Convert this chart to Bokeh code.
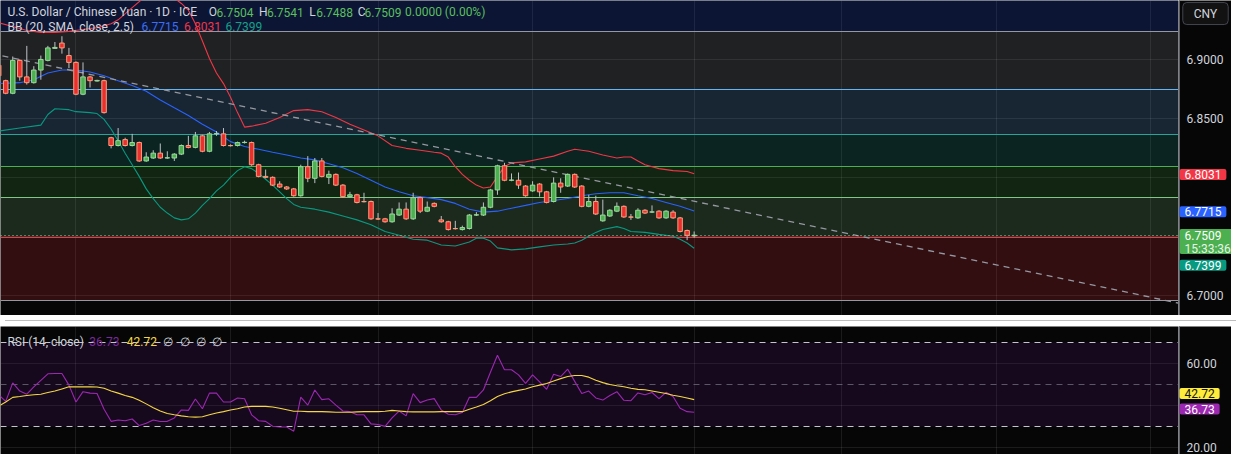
from bokeh.plotting import figure
from bokeh.models import Range1d, FixedTicker, Label, ColumnDataSource, Div
from bokeh.layouts import column, row
from bokeh.core.properties import value
from bokeh.embed import file_html
from bokeh.resources import INLINE

# ---------------- data ----------------
opens = [6.8951, 6.8820, 6.8713, 6.8992, 6.8852, 6.8803, 6.8910, 6.8992, 6.9094, 6.9139,
         6.9033, 6.8975, 6.8705, 6.8852, 6.8817, 6.8820, 6.8336, 6.8270, 6.8320, 6.8270,
         6.8295, 6.8139, 6.8164, 6.8205, 6.8164, 6.8164, 6.8197, 6.8270, 6.8254, 6.8352,
         6.8221, 6.8369, 6.8369, 6.8270, 6.8270, 6.8295, 6.8295, 6.8107, 6.8008, 6.8000,
         6.7943, 6.7918, 6.7902, 6.7844, 6.8090, 6.7992, 6.8139, 6.8000, 6.8025, 6.7934,
         6.7836, 6.7852, 6.7795, 6.7795, 6.7648, 6.7648, 6.7623, 6.7680, 6.7730, 6.7648,
         6.7828, 6.7713, 6.7779, 6.7639, 6.7623, 6.7566, 6.7557, 6.7566, 6.7680, 6.7680,
         6.7746, 6.7893, 6.8098, 6.7975, 6.7975, 6.7926, 6.7885, 6.7943, 6.7877, 6.7795,
         6.7951, 6.7926, 6.8025, 6.7926, 6.7754, 6.7795, 6.7631, 6.7672, 6.7713, 6.7754,
         6.7664, 6.7656, 6.7721, 6.7705, 6.7713, 6.7656, 6.7705, 6.7656, 6.7549, 6.7504]
highs = [6.8967, 6.8828, 6.9025, 6.9000, 6.9115, 6.8943, 6.9033, 6.9115, 6.9148, 6.9197,
         6.9098, 6.8984, 6.8975, 6.8861, 6.8828, 6.8828, 6.8344, 6.8418, 6.8336, 6.8369,
         6.8303, 6.8213, 6.8230, 6.8287, 6.8221, 6.8205, 6.8279, 6.8352, 6.8385, 6.8361,
         6.8385, 6.8393, 6.8418, 6.8279, 6.8303, 6.8311, 6.8303, 6.8115, 6.8066, 6.8008,
         6.7967, 6.7926, 6.7910, 6.8107, 6.8180, 6.8164, 6.8164, 6.8057, 6.8033, 6.7943,
         6.7877, 6.7860, 6.7869, 6.7803, 6.7697, 6.7656, 6.7738, 6.7787, 6.7787, 6.7869,
         6.7836, 6.7795, 6.7787, 6.7672, 6.7631, 6.7631, 6.7590, 6.7689, 6.7705, 6.7787,
         6.7902, 6.8107, 6.8123, 6.8033, 6.8041, 6.7934, 6.7967, 6.7951, 6.7885, 6.8000,
         6.7992, 6.8033, 6.8033, 6.7934, 6.7852, 6.7844, 6.7811, 6.7730, 6.7787, 6.7762,
         6.7689, 6.7738, 6.7730, 6.7762, 6.7721, 6.7721, 6.7721, 6.7664, 6.7557, 6.7541]
lows = [6.8844, 6.8705, 6.8705, 6.8820, 6.8787, 6.8795, 6.8828, 6.8984, 6.9090, 6.9049,
        6.8926, 6.8697, 6.8697, 6.8762, 6.8812, 6.8541, 6.8246, 6.8262, 6.8262, 6.8262,
        6.8131, 6.8131, 6.8156, 6.8156, 6.8156, 6.8139, 6.8189, 6.8246, 6.8246, 6.8213,
        6.8213, 6.8352, 6.8262, 6.8262, 6.8262, 6.8287, 6.8098, 6.8000, 6.7992, 6.7926,
        6.7910, 6.7893, 6.7836, 6.7836, 6.7959, 6.7951, 6.8000, 6.7943, 6.7926, 6.7828,
        6.7828, 6.7779, 6.7787, 6.7639, 6.7639, 6.7615, 6.7615, 6.7672, 6.7639, 6.7639,
        6.7697, 6.7705, 6.7746, 6.7615, 6.7549, 6.7557, 6.7549, 6.7557, 6.7672, 6.7672,
        6.7738, 6.7852, 6.7967, 6.7967, 6.7902, 6.7836, 6.7877, 6.7836, 6.7779, 6.7787,
        6.7869, 6.7918, 6.7910, 6.7746, 6.7746, 6.7680, 6.7623, 6.7664, 6.7705, 6.7656,
        6.7639, 6.7648, 6.7689, 6.7697, 6.7648, 6.7648, 6.7648, 6.7533, 6.7467, 6.7488]
closes = [6.8861, 6.8713, 6.8992, 6.8852, 6.8803, 6.8910, 6.9000, 6.9098, 6.9102, 6.9098,
          6.8975, 6.8705, 6.8852, 6.8820, 6.8822, 6.8549, 6.8270, 6.8311, 6.8270, 6.8295,
          6.8139, 6.8172, 6.8205, 6.8164, 6.8166, 6.8197, 6.8270, 6.8254, 6.8352, 6.8221,
          6.8369, 6.8371, 6.8270, 6.8268, 6.8295, 6.8297, 6.8107, 6.8008, 6.8000, 6.7934,
          6.7918, 6.7902, 6.7844, 6.8090, 6.7992, 6.8139, 6.8008, 6.8025, 6.7934, 6.7836,
          6.7852, 6.7787, 6.7793, 6.7648, 6.7646, 6.7623, 6.7689, 6.7730, 6.7648, 6.7828,
          6.7713, 6.7746, 6.7754, 6.7623, 6.7557, 6.7564, 6.7574, 6.7680, 6.7682, 6.7746,
          6.7893, 6.8098, 6.7975, 6.7977, 6.7934, 6.7844, 6.7934, 6.7877, 6.7787, 6.7951,
          6.7918, 6.8025, 6.7918, 6.7754, 6.7795, 6.7689, 6.7680, 6.7721, 6.7754, 6.7664,
          6.7662, 6.7721, 6.7697, 6.7707, 6.7656, 6.7713, 6.7656, 6.7541, 6.7508, 6.7509]
bars = list(range(len(closes)))

bb_mid_idx = [0, 3, 5, 7, 9, 11, 13, 15, 17, 19, 21, 23, 25, 27, 29, 31, 33, 35, 37, 39,
              41, 43, 45, 47, 49, 51, 53, 55, 57, 59, 61, 63, 65, 67, 69, 71, 73, 75, 77, 79,
              81, 83, 85, 87, 89, 91, 93, 95, 97, 99]
bb_mid = [6.8795, 6.8803, 6.8828, 6.8885, 6.8910, 6.8910, 6.8893, 6.8861, 6.8820, 6.8779,
          6.8730, 6.8656, 6.8590, 6.8525, 6.8451, 6.8385, 6.8303, 6.8262, 6.8238, 6.8213,
          6.8189, 6.8164, 6.8148, 6.8115, 6.8082, 6.8033, 6.7975, 6.7918, 6.7877, 6.7844,
          6.7828, 6.7811, 6.7779, 6.7730, 6.7705, 6.7713, 6.7738, 6.7762, 6.7787, 6.7803,
          6.7820, 6.7844, 6.7861, 6.7869, 6.7869, 6.7844, 6.7820, 6.7787, 6.7754, 6.7715]
bb_up_idx = [0, 2, 4, 6, 8, 10, 12, 14, 16, 17, 19, 21, 23, 25, 26, 27, 28, 29, 30, 31,
             32, 33, 34, 35, 36, 38, 40, 42, 44, 46, 48, 50, 52, 54, 56, 58, 60, 62, 63, 64,
             65, 66, 67, 68, 69, 70, 71, 72, 73, 75, 77, 79, 81, 82, 84, 86, 88, 89, 90, 91,
             92, 94, 96, 98, 99]
bb_up = [6.9311, 6.9279, 6.9246, 6.9230, 6.9230, 6.9238, 6.9254, 6.9270, 6.9303, 6.9336,
         6.9440, 6.9540, 6.9560, 6.9520, 6.9475, 6.9418, 6.9303, 6.9156, 6.9008, 6.8885,
         6.8795, 6.8680, 6.8549, 6.8426, 6.8434, 6.8459, 6.8508, 6.8566, 6.8574, 6.8557,
         6.8508, 6.8451, 6.8402, 6.8352, 6.8270, 6.8246, 6.8230, 6.8213, 6.8205, 6.8172,
         6.8090, 6.8025, 6.7975, 6.7934, 6.7910, 6.7918, 6.8008, 6.8090, 6.8123, 6.8131,
         6.8156, 6.8180, 6.8221, 6.8238, 6.8221, 6.8189, 6.8164, 6.8172, 6.8172, 6.8139,
         6.8107, 6.8074, 6.8057, 6.8049, 6.8031]
bb_lo_idx = [0, 3, 6, 7, 8, 10, 11, 13, 14, 15, 16, 17, 18, 19, 20, 21, 22, 23, 24, 25,
             26, 27, 28, 29, 30, 31, 32, 33, 34, 35, 36, 37, 38, 39, 40, 41, 42, 43, 45, 47,
             49, 51, 53, 55, 57, 59, 61, 63, 65, 67, 68, 69, 70, 71, 73, 75, 77, 79, 81, 82,
             83, 84, 85, 86, 88, 89, 90, 92, 94, 96, 97, 98, 99]
bb_lo = [6.8393, 6.8418, 6.8443, 6.8533, 6.8582, 6.8574, 6.8557, 6.8549, 6.8541, 6.8492,
         6.8410, 6.8311, 6.8205, 6.8107, 6.8008, 6.7902, 6.7820, 6.7746, 6.7697, 6.7656,
         6.7639, 6.7648, 6.7697, 6.7762, 6.7820, 6.7885, 6.7934, 6.8000, 6.8057, 6.8090,
         6.8074, 6.8033, 6.7984, 6.7934, 6.7877, 6.7820, 6.7770, 6.7746, 6.7730, 6.7705,
         6.7672, 6.7639, 6.7598, 6.7541, 6.7508, 6.7475, 6.7467, 6.7426, 6.7418, 6.7451,
         6.7484, 6.7484, 6.7459, 6.7402, 6.7385, 6.7393, 6.7410, 6.7426, 6.7434, 6.7443,
         6.7467, 6.7500, 6.7533, 6.7557, 6.7582, 6.7566, 6.7541, 6.7533, 6.7516, 6.7500,
         6.7475, 6.7443, 6.7399]

rsi = [45.0, 41.9, 50.7, 46.8, 45.3, 48.8, 51.9, 55.0, 55.1, 55.1,
       49.6, 41.6, 46.5, 45.8, 45.6, 38.1, 32.4, 33.0, 32.7, 33.5,
       30.4, 31.5, 33.0, 32.3, 32.4, 34.0, 37.8, 37.6, 43.0, 38.4,
       45.8, 45.8, 41.6, 41.6, 43.5, 43.1, 35.5, 32.7, 32.4, 30.1,
       29.7, 29.7, 27.7, 43.9, 40.1, 47.3, 42.7, 43.1, 40.1, 37.3,
       37.0, 35.5, 35.5, 31.2, 30.9, 30.0, 34.0, 37.3, 35.0, 45.6,
       41.3, 42.5, 43.2, 37.8, 35.8, 35.5, 36.6, 43.8, 43.8, 47.3,
       55.7, 63.8, 56.9, 56.9, 54.5, 50.4, 54.5, 51.1, 47.6, 54.8,
       53.7, 57.2, 51.4, 45.6, 46.8, 43.5, 42.5, 44.7, 46.5, 42.4,
       42.2, 45.9, 45.0, 46.1, 43.2, 46.2, 44.2, 38.6, 37.0, 36.73]
rsi_ma = [39.6, 41.6, 43.8, 44.2, 44.7, 45.0, 45.3, 46.1, 46.8, 47.8,
          48.8, 48.8, 48.8, 48.8, 48.7, 48.1, 46.8, 45.8, 44.7, 43.8,
          42.4, 40.7, 38.9, 37.3, 36.1, 35.5, 35.0, 34.6, 34.4, 34.6,
          35.5, 36.4, 37.0, 37.8, 38.4, 39.2, 39.5, 39.5, 39.5, 39.2,
          38.6, 37.9, 37.2, 37.2, 37.0, 37.0, 37.0, 36.9, 36.7, 36.7,
          36.7, 36.9, 37.0, 37.0, 37.0, 37.2, 37.6, 37.3, 37.0, 36.9,
          36.9, 36.9, 36.9, 37.0, 37.0, 37.0, 37.0, 38.1, 39.2, 40.4,
          42.2, 44.2, 45.5, 46.4, 47.1, 47.8, 48.8, 49.6, 50.4, 51.6,
          52.7, 53.7, 54.2, 54.2, 53.4, 51.9, 50.8, 49.9, 49.3, 48.8,
          48.1, 47.6, 47.4, 46.8, 46.2, 45.6, 44.8, 44.2, 43.5, 42.72]

fib_prices = [6.6951, 6.7491, 6.7825, 6.8095, 6.8364, 6.8749, 6.9238, 7.0651]
fib_colors = ["#9598a1", "#f23645", "#81c784", "#4caf50", "#26a69a", "#64b5f6", "#9598a1", "#2962ff"]

trend_idx = [-1, 169]
trend_price = [6.9049, 6.6920]

month_idx = [11, 33, 54, 76, 99, 120, 142, 164]
price_ticks = [6.70, 6.85, 6.90]
price_grid = [6.70, 6.75, 6.80, 6.85, 6.90]
rsi_ticks = [20, 60]
rsi_grid = [20, 40, 60]

header_vals = {"O": "6.7504", "H": "6.7541", "L": "6.7488", "C": "6.7509"}

# ---------------- layout constants ----------------
BG = "#060606"
TOTAL_W = 1231
AXW = 53
FW = TOTAL_W - AXW
MH = 315
RH = 128
FONT = "Roboto"
TXT = "#d1d4dc"


def sx(xr):
    return xr * FW / 1194.0


def my(yr):
    return MH - yr * MH / 326.0


def ry(yr):
    return RH - (yr - 327.7) * RH / 132.3


def lab(fig, text, x, y, color, size="12px", align="left", **kw):
    fig.add_layout(Label(x=x, y=y, x_units="screen", y_units="screen", text=text,
                         text_color=color, text_font=FONT, text_font_size=size,
                         text_align=align, text_baseline="middle", **kw))


def pane(height, yr):
    f = figure(width=FW, height=height, x_range=xr, y_range=yr,
               output_backend="svg", toolbar_location=None, x_axis_location=None,
               y_axis_location=None, min_border_left=0, min_border_right=0,
               min_border_top=0, min_border_bottom=0, background_fill_color=BG,
               border_fill_color=BG, outline_line_color=None)
    f.grid.grid_line_color = "#f2f2f2"
    f.grid.grid_line_alpha = 0.09
    f.xgrid.ticker = FixedTicker(ticks=month_idx)
    return f


def scale(height, yr, ticks, fmt):
    s = figure(width=AXW, height=height, x_range=Range1d(0, AXW), y_range=yr,
               output_backend="svg", toolbar_location=None, x_axis_location=None,
               y_axis_location=None, min_border_left=0, min_border_right=0,
               min_border_top=0, min_border_bottom=0, background_fill_color=BG,
               border_fill_color=BG, outline_line_color=None)
    s.grid.visible = False
    s.vspan(x=[0.5], line_color="#5d606b", line_width=1)
    s.text(x=[8] * len(ticks), y=ticks, text=[fmt % t for t in ticks],
           text_font=value(FONT), text_font_size="12px", text_color=TXT,
           text_baseline="middle", text_align="left")
    return s


def tag(fig, text, y, bg, fg="#ffffff", pad=None):
    pad = pad or dict(left=5, right=5, top=1, bottom=1)
    lab(fig, text, 1, y, fg, background_fill_color=bg, border_radius=2, padding=pad)


# ---------------- main pane ----------------
xr = Range1d(0.2556, 167.95)
pyr = Range1d(6.6828, 6.95)
p = pane(MH, pyr)
p.ygrid.ticker = FixedTicker(ticks=price_grid)

p.hstrip(y0=fib_prices[:-1], y1=fib_prices[1:], fill_color=fib_colors[1:], fill_alpha=0.19,
         line_color=None)
p.hspan(y=fib_prices, line_color=fib_colors, line_width=1)

p.line(bb_up_idx, bb_up, line_color="#f23645", line_width=1.1)
p.line(bb_lo_idx, bb_lo, line_color="#089981", line_width=1.1)
p.line(bb_mid_idx, bb_mid, line_color="#2962ff", line_width=1.1)
p.line(trend_idx, trend_price, line_color="#9598a1", line_width=1.3, line_dash="6 5")

up = [c >= o for o, c in zip(opens, closes)]
src = ColumnDataSource(dict(
    x=bars, high=highs, low=lows,
    top=[max(o, c) for o, c in zip(opens, closes)],
    bottom=[min(o, c) for o, c in zip(opens, closes)],
    fill=["#4caf50" if u else "#e8312f" for u in up],
    edge=["#9ad89c" if u else "#ff9c7a" for u in up],
))
p.segment(x0="x", y0="low", x1="x", y1="high", source=src, line_color="#bfc2c8", line_width=1)
p.vbar(x="x", width=0.64, top="top", bottom="bottom", source=src,
       fill_color="fill", line_color="edge", line_width=1)

p.hspan(y=[closes[-1]], line_color="#a5d6a7", line_dash="1 3", line_width=1)

# header
lab(p, "U.S. Dollar / Chinese Yuan · 1D · ICE", sx(7), my(12), TXT)
GREEN = "#5bbf5f"
for k, xk, xv in (("O", 211, 219), ("H", 262, 270), ("L", 313, 320), ("C", 362, 369)):
    lab(p, k, sx(xk), my(12), TXT)
    lab(p, header_vals[k], sx(xv), my(12), GREEN)
lab(p, "0.0000 (0.00%)", sx(410), my(12), GREEN)
lab(p, "BB (20, SMA, close, 2.5)", sx(7), my(27), TXT)
lab(p, "6.7715", sx(143), my(27), "#3d6ef5")
lab(p, "6.8031", sx(186), my(27), "#f23645")
lab(p, "6.7399", sx(228), my(27), "#14a08a")

# price scale
ps = scale(MH, pyr, price_ticks, "%.4f")
lab(ps, "CNY", 27, my(13.5), TXT, align="center", background_fill_color="#121212",
    border_line_color="#434651", border_radius=4,
    padding=dict(left=11, right=11, top=4, bottom=4))
tag(ps, "6.8031", my(180), "#f23645")
tag(ps, "6.7715", my(218.5), "#2962ff")
tag(ps, "6.7509", my(249.5), "#4caf50", pad=dict(left=5, right=14, top=2, bottom=14))
lab(ps, "15:33:36", 6, my(257), "#e8f5e9")
tag(ps, "6.7399", my(274), "#089981")

# ---------------- RSI pane ----------------
ryr = Range1d(16.64, 77.47)
r = pane(RH, ryr)
r.ygrid.ticker = FixedTicker(ticks=rsi_grid)

r.hstrip(y0=[30], y1=[70], fill_color="#6a1b9a", fill_alpha=0.16, line_color=None)
r.hspan(y=[70, 30], line_color="#c4c6cc", line_dash="6 5", line_width=1)
r.hspan(y=[50], line_color="#787b86", line_alpha=0.7, line_dash="6 5", line_width=1)
r.line(bars, rsi, line_color="#9c27b0", line_width=1.1)
r.line(bars, rsi_ma, line_color="#f5d742", line_width=1.1)

lab(r, "RSI (14, close)", sx(7), ry(343.3), TXT)
lab(r, "36.73", sx(90), ry(343.3), "#7b2a9b")
lab(r, "42.72", sx(128), ry(343.3), "#f5d742")
for xe in (165, 182, 198, 214):
    lab(r, "∅", sx(xe), ry(343.3), TXT)

rs = scale(RH, ryr, rsi_ticks, "%.2f")
tag(rs, "42.72", ry(397), "#ffeb3b", fg="#131313")
tag(rs, "36.73", ry(413), "#9c27b0")

sep = Div(text="", width=TOTAL_W, height=1, styles={"background-color": "#bdbdbd"})

layout = column(row(p, ps, spacing=0), sep, row(r, rs, spacing=0), spacing=0)
open("out.html", "w").write(file_html(layout, INLINE))
